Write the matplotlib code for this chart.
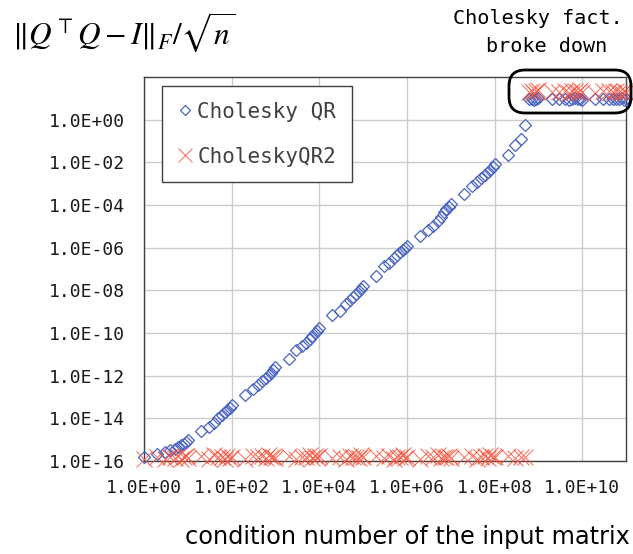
import matplotlib
matplotlib.use('Agg')
import matplotlib.pyplot as plt
from matplotlib.patches import FancyBboxPatch
from matplotlib.ticker import FixedLocator, FixedFormatter, NullLocator
from matplotlib.font_manager import FontProperties

W, H = 633, 554

# ---------------- data ----------------
mantissas = [1, 2, 3, 4, 5, 6, 7, 8, 9]
rise_decades = [0, 1, 2, 3, 4, 5, 6, 7, 8]
cond_rise = [m * 10.0 ** e for e in rise_decades for m in mantissas][:77]

cqr_rise = [
    1.48e-16, 2.04e-16, 2.69e-16, 3.16e-16, 3.8e-16, 4.47e-16, 5.37e-16, 6.3e-16, 7.6e-16,
    1.0e-15, 2.5e-15, 4.0e-15, 6.3e-15, 1.0e-14, 1.4e-14, 2.0e-14, 2.5e-14, 3.2e-14,
    4.0e-14, 1.26e-13, 2.5e-13, 3.5e-13, 5.6e-13, 7.9e-13, 1.1e-12, 1.4e-12, 1.8e-12,
    2.5e-12, 6.3e-12, 1.6e-11, 2.5e-11, 3.5e-11, 5.0e-11, 7.1e-11, 1.0e-10, 1.26e-10,
    1.8e-10, 6.9e-10, 1.1e-9, 2.2e-9, 3.5e-9, 5.0e-9, 7.1e-9, 8.9e-9, 1.1e-8,
    1.6e-8, 4.7e-8, 1.4e-7, 2.0e-7, 3.2e-7, 4.5e-7, 6.3e-7, 7.9e-7, 1.0e-6,
    1.2e-6, 3.7e-6, 7.1e-6, 1.0e-5, 1.8e-5, 2.8e-5, 4.5e-5, 6.3e-5, 7.9e-5,
    1.1e-4, 3.2e-4, 7.4e-4, 1.26e-3, 1.8e-3, 2.5e-3, 3.5e-3, 4.5e-3, 6.3e-3,
    8.5e-3, 2.3e-2, 6.5e-2, 0.12, 0.59,
]

cqr2_rise = [
    1.3e-16, 1.5e-16, 1.2e-16, 1.6e-16, 1.4e-16, 1.7e-16, 1.3e-16, 1.5e-16, 1.8e-16,
    1.4e-16, 1.7e-16, 1.3e-16, 1.9e-16, 1.5e-16, 1.6e-16, 1.3e-16, 1.8e-16, 1.4e-16,
    1.6e-16, 1.3e-16, 1.8e-16, 1.5e-16, 1.7e-16, 1.4e-16, 1.9e-16, 1.5e-16, 1.6e-16,
    1.4e-16, 1.8e-16, 1.3e-16, 1.6e-16, 1.5e-16, 1.9e-16, 1.4e-16, 1.7e-16, 1.5e-16,
    1.7e-16, 1.4e-16, 1.6e-16, 1.3e-16, 1.8e-16, 1.5e-16, 1.6e-16, 1.4e-16, 1.9e-16,
    1.5e-16, 1.7e-16, 1.4e-16, 1.8e-16, 1.3e-16, 1.6e-16, 1.5e-16, 1.9e-16, 1.4e-16,
    1.6e-16, 1.3e-16, 1.7e-16, 1.5e-16, 1.9e-16, 1.4e-16, 1.6e-16, 1.5e-16, 1.8e-16,
    1.4e-16, 1.6e-16, 1.8e-16, 1.3e-16, 1.5e-16, 1.7e-16, 1.4e-16, 1.9e-16, 1.6e-16,
    1.5e-16, 1.7e-16, 1.4e-16, 1.6e-16, 1.5e-16,
]

cond_fail = [6e8, 7e8, 8e8, 9e8,
             1e9, 2e9, 3e9, 4e9, 5e9, 6e9, 7e9, 8e9, 9e9,
             1e10, 2e10, 3e10, 4e10, 5e10, 6e10, 7e10, 8e10, 9e10,
             1e11]
cqr_fail = [9.0, 9.6, 8.7, 9.3, 10.0, 8.9, 9.4, 9.8, 8.6, 9.2, 9.9, 9.0,
            9.5, 8.8, 9.7, 9.1, 9.4, 8.9, 9.6, 9.3, 10.1, 8.8, 9.2]
cqr2_fail = [19, 22, 18, 21, 24, 19, 20, 23, 18, 21, 22, 19,
             25, 20, 18, 22, 21, 19, 23, 20, 18, 22, 20]

x_ticks = [1e0, 1e2, 1e4, 1e6, 1e8, 1e10]
x_ticklabels = ['1.0E+00', '1.0E+02', '1.0E+04', '1.0E+06', '1.0E+08', '1.0E+10']
y_ticks = [1e-16, 1e-14, 1e-12, 1e-10, 1e-8, 1e-6, 1e-4, 1e-2, 1e0]
y_ticklabels = ['1.0E-16', '1.0E-14', '1.0E-12', '1.0E-10', '1.0E-08',
                '1.0E-06', '1.0E-04', '1.0E-02', '1.0E+00']

series_names = ['Cholesky QR', 'CholeskyQR2']
title_text = r'$\|Q^{\top}Q - I\|_F/\sqrt{n}$'
xlabel_text = 'condition number of the input matrix'
note_lines = ['Cholesky fact.', 'broke down']

# ---------------- style ----------------
plt.rcParams['font.family'] = ['DejaVu Sans Mono']
plt.rcParams['mathtext.fontset'] = 'stix'

blue = '#4a64c2'
red = '#f4503a'
txtc = '#1a1a1a'

fig = plt.figure(figsize=(W / 100, H / 100), dpi=100)
ax = fig.add_axes([144 / W, 1 - 461 / H, 482 / W, 384 / H])

ax.set_xscale('log')
ax.set_yscale('log')
ax.set_xlim(1e0, 1e11)
ax.set_ylim(1e-16, 1e2)

ax.plot(cond_rise + cond_fail, cqr_rise + cqr_fail, ls='none', marker='D',
        mfc='none', mec=blue, ms=5.8, mew=0.9, clip_on=False, label=series_names[0],
        zorder=3)
ax.plot(cond_rise + cond_fail, cqr2_rise + cqr2_fail, ls='none', marker='x',
        color=red, ms=11.5, mew=0.75, alpha=0.8, clip_on=False, label=series_names[1],
        zorder=4)

ax.xaxis.set_major_locator(FixedLocator(x_ticks))
ax.xaxis.set_major_formatter(FixedFormatter(x_ticklabels))
ax.yaxis.set_major_locator(FixedLocator(y_ticks))
ax.yaxis.set_major_formatter(FixedFormatter(y_ticklabels))
ax.xaxis.set_minor_locator(NullLocator())
ax.yaxis.set_minor_locator(NullLocator())
ax.tick_params(axis='both', length=0, labelsize=13, colors=txtc)
ax.tick_params(axis='x', pad=13)
ax.tick_params(axis='y', pad=14)

ax.grid(True, color='#cccccc', lw=1)
ax.set_axisbelow(True)
for s in ax.spines.values():
    s.set_color('#404040')
    s.set_linewidth(1)

leg = ax.legend(loc='upper left', bbox_to_anchor=(162 / W, 1 - 86 / H),
                bbox_transform=fig.transFigure,
                prop=FontProperties(family='DejaVu Sans Mono', size=15),
                frameon=True, fancybox=False, edgecolor='#404040', framealpha=1,
                handlelength=0.7, handletextpad=0.25, borderpad=0.75,
                labelspacing=1.2, borderaxespad=0, markerscale=0.85)
leg.get_frame().set_linewidth(1)
for t in leg.get_texts():
    t.set_color('#404040')

fig.text(12 / W, 1 - 32 / H, title_text, fontsize=22.5, ha='left', va='center')
fig.text(538 / W, 1 - 18 / H, note_lines[0], fontsize=14.5, ha='center', va='center',
         color='black')
fig.text(547 / W, 1 - 47 / H, note_lines[1], fontsize=14.5, ha='center', va='center',
         color='black')
fig.text(407 / W, 1 - 537 / H, xlabel_text, fontsize=17.3, ha='center', va='center',
         family='DejaVu Sans', color='black')

box = FancyBboxPatch((509 / 100, (H - 113) / 100), 122 / 100, 43 / 100,
                     boxstyle='round,pad=0,rounding_size=0.16',
                     transform=fig.dpi_scale_trans, fill=False, lw=2,
                     ec='black', zorder=10)
fig.add_artist(box)

fig.savefig('out.png', dpi=100)
